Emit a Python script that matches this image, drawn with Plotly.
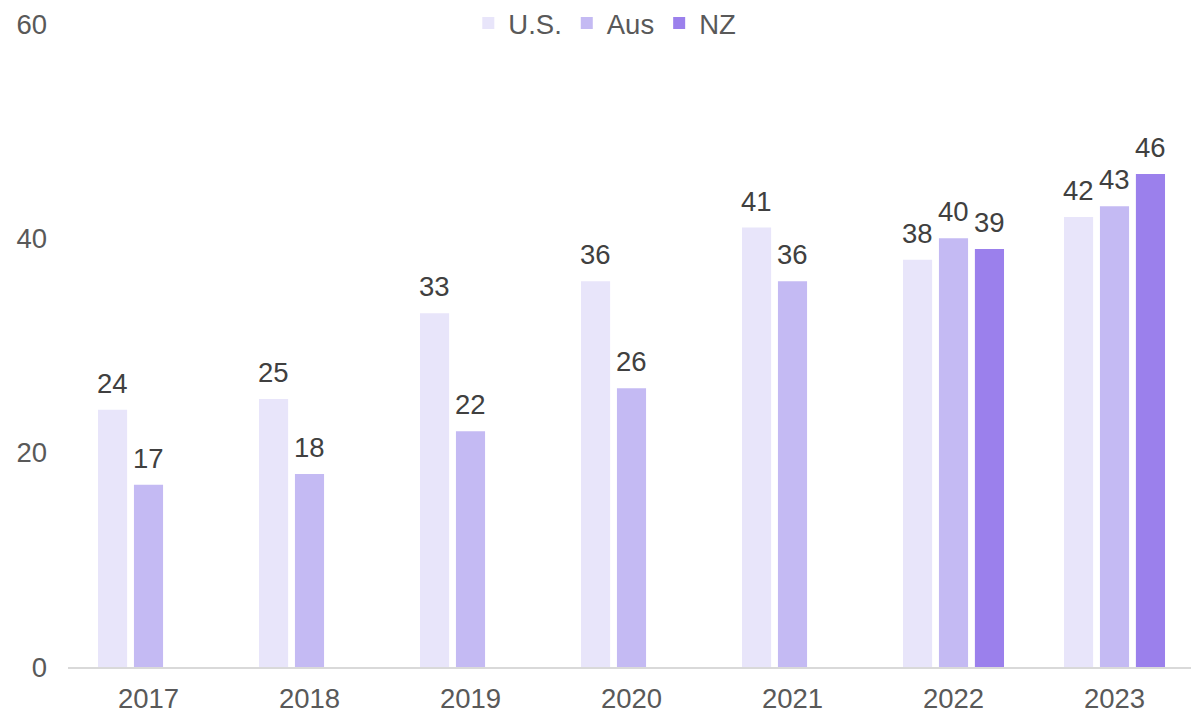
import plotly.graph_objects as go

years = ["2017", "2018", "2019", "2020", "2021", "2022", "2023"]
us = [24, 25, 33, 36, 41, 38, 42]
aus = [17, 18, 22, 26, 36, 40, 43]
nz = [None, None, None, None, None, 39, 46]

series_names = ["U.S.", "Aus", "NZ"]
series_values = [us, aus, nz]
series_colors = ["#E8E5FA", "#C4BAF3", "#9B80EC"]

FONT = "Liberation Sans, Arial, sans-serif"
FS = 27.5
BARGAP = 0.33

fig = go.Figure()
for name, vals, col in zip(series_names, series_values, series_colors):
    fig.add_trace(go.Bar(
        x=list(range(len(years))), y=vals, name=name,
        marker=dict(color=col, line=dict(width=0)),
    ))

# value labels above each bar, offset to its slot within the group
slot = (1 - BARGAP) / len(series_values)
for i, vals in enumerate(series_values):
    off = (i - (len(series_values) - 1) / 2) * slot
    for j, v in enumerate(vals):
        if v is None:
            continue
        fig.add_annotation(
            x=j + off, y=v, xref="x", yref="y", text=str(v),
            showarrow=False, yanchor="bottom", yshift=9,
            font=dict(family=FONT, size=FS, color="#404040"),
        )

plot_w = 1191 - 68
fig.update_layout(
    template="none",
    width=1191, height=716,
    margin=dict(l=68, r=0, t=23.5, b=49, autoexpand=False),
    paper_bgcolor="white", plot_bgcolor="white",
    barmode="group", bargap=BARGAP, bargroupgap=0.19,
    font=dict(family=FONT, size=FS, color="#595959"),
    showlegend=True,
    legend=dict(
        orientation="h", x=0.478, xanchor="center", y=1.0015, yanchor="middle",
        font=dict(family=FONT, size=FS, color="#595959"),
        itemwidth=30, bgcolor="rgba(0,0,0,0)",
    ),
    xaxis=dict(
        tickmode="array", tickvals=list(range(len(years))), ticktext=years,
        range=[-0.5, -0.5 + plot_w / 161.0],
        showline=True, linecolor="#D9D9D9", linewidth=1.5,
        showgrid=False, zeroline=False, ticks="", automargin=False,
        ticklabelstandoff=6,
    ),
    yaxis=dict(
        range=[0, 60], tickvals=[0, 20, 40, 60],
        showgrid=False, zeroline=False, showline=False, ticks="",
        automargin=False, ticklabelstandoff=20,
    ),
)

fig.write_html("out.html")
